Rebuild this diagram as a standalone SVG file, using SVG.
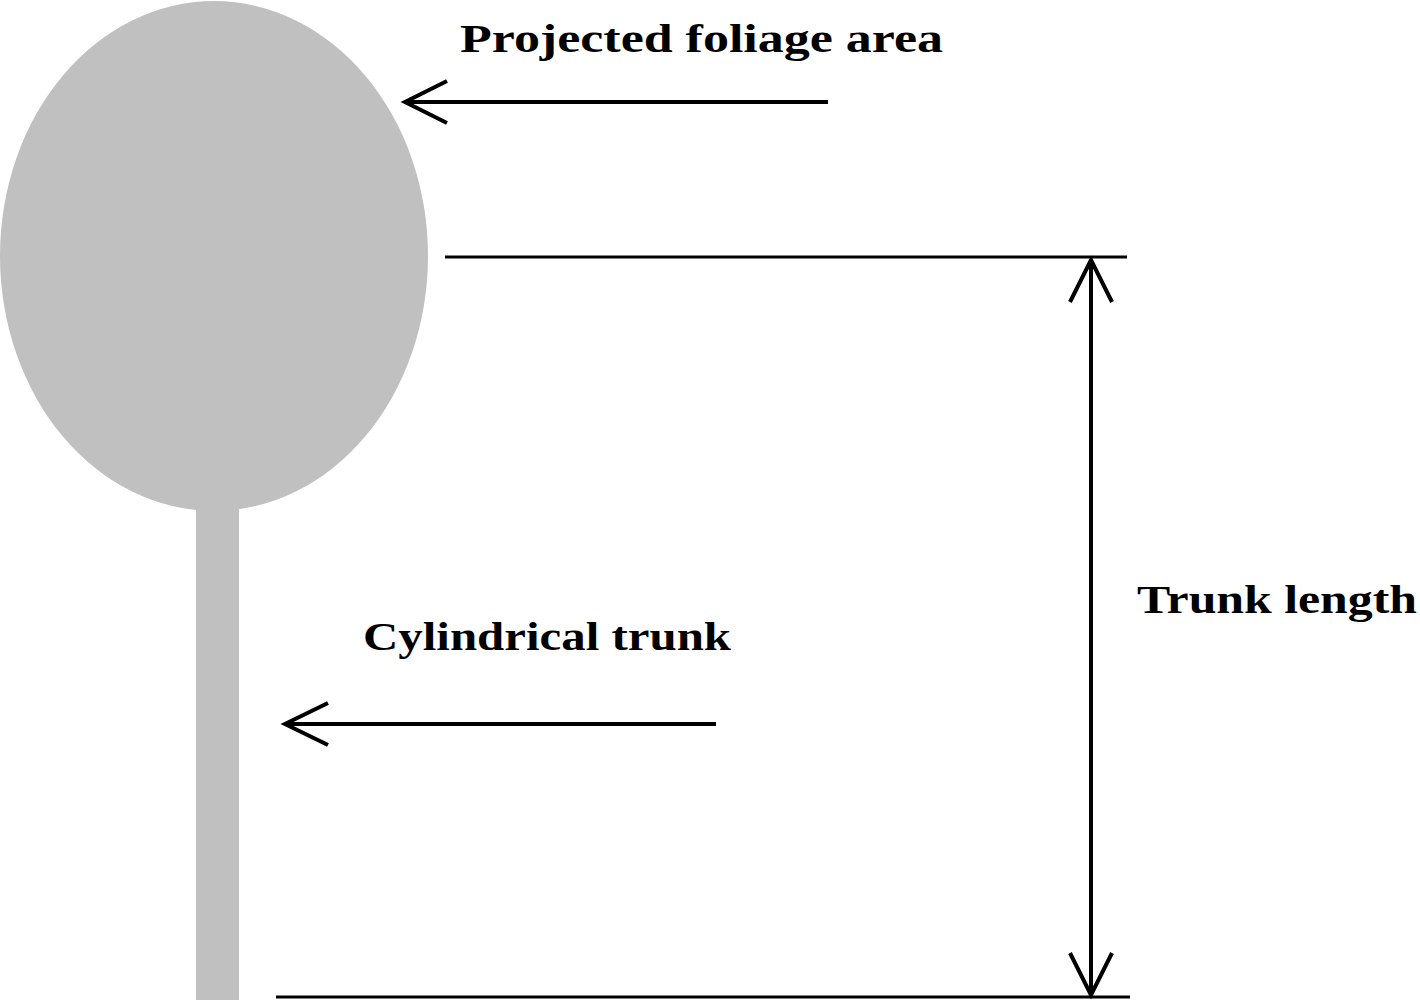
<svg xmlns="http://www.w3.org/2000/svg" width="1420" height="1000" viewBox="0 0 1420 1000">
<style>
.t{font-family:"Liberation Serif",serif;font-weight:bold;font-size:40px;fill:#000}
.l{stroke:#000;stroke-width:4;fill:none}
.h{stroke:#000;stroke-width:3;fill:none}
</style>
<rect width="1420" height="1000" fill="#fff"/>
<g id="tree" fill="#c0c0c0">
<ellipse cx="214" cy="256" rx="214" ry="255"/>
<rect x="196" y="500" width="43" height="500"/>
</g>
<g id="connectors">
<line class="l" x1="405" y1="102" x2="828" y2="102"/>
<polyline class="l" points="447,81 405,102 447,123"/>
<line class="l" x1="285" y1="724" x2="716" y2="724"/>
<polyline class="l" points="328,703 285,724 328,745"/>
<line class="h" x1="445" y1="257" x2="1127" y2="257"/>
<line class="h" x1="276" y1="997" x2="1130" y2="997"/>
<line class="l" x1="1091" y1="260" x2="1091" y2="995"/>
<polyline class="l" points="1070,302 1091,260 1112,302"/>
<polyline class="l" points="1070,953 1091,995 1112,953"/>
</g>
<g id="labels">
<text class="t" x="460" y="52" textLength="483" lengthAdjust="spacingAndGlyphs">Projected foliage area</text>
<text class="t" x="363" y="650" textLength="368" lengthAdjust="spacingAndGlyphs">Cylindrical trunk</text>
<text class="t" x="1137" y="613" textLength="280" lengthAdjust="spacingAndGlyphs">Trunk length</text>
</g>
</svg>
